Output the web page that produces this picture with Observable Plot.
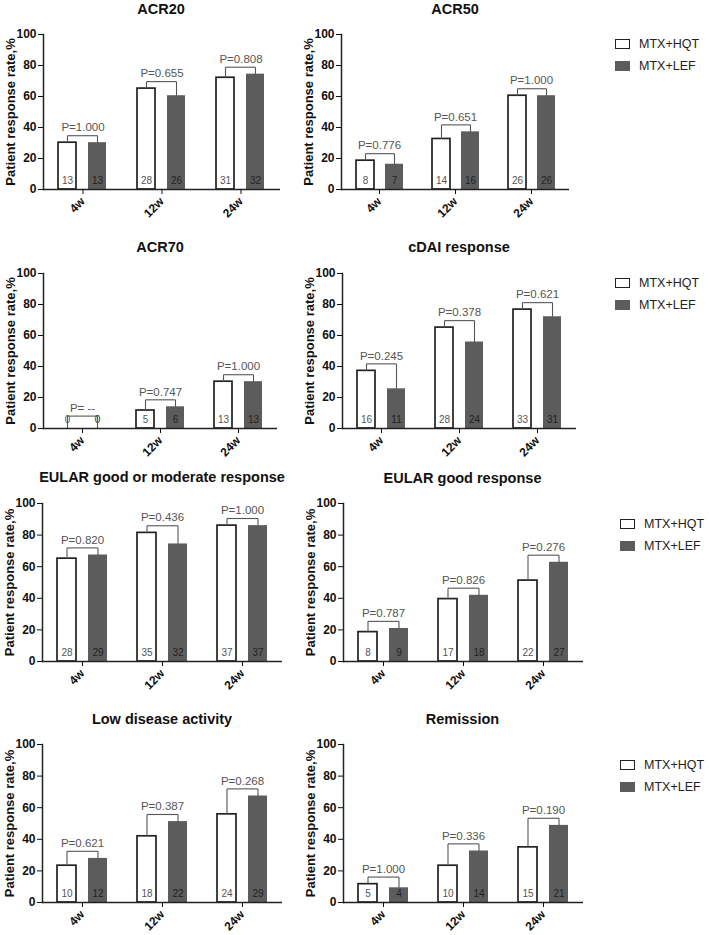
<!DOCTYPE html>
<html><head><meta charset="utf-8">
<script src="https://cdn.jsdelivr.net/npm/d3@7"></script>
<script src="https://cdn.jsdelivr.net/npm/@observablehq/plot@0.6"></script>
<style>
body{margin:0;background:#fff;font-family:Arial,"Liberation Sans",sans-serif;}
#root{position:relative;width:709px;height:935px;overflow:hidden;background:#fff;}
.title{position:absolute;font-weight:bold;font-size:14.5px;line-height:1;color:#111;white-space:nowrap;transform:translateX(-50%);}
.panel{position:absolute;}
.legend{position:absolute;font-size:12.5px;color:#222;line-height:1;}
.legend .row{display:flex;align-items:center;height:22px;}
.legend .sw{display:inline-block;width:15px;height:10px;box-sizing:border-box;margin-right:9px;}
.legend .hqt{border:1.6px solid #222;background:#fff;}
.legend .lef{background:#5c5c5c;}
</style></head><body><div id="root"></div>
<script>
// ---- data ----
const panelTitles = ["ACR20","ACR50","ACR70","cDAI response","EULAR good or moderate response","EULAR good response","Low disease activity","Remission"];
const timePoints = ["4w","12w","24w"];
const groupNames = ["MTX+HQT","MTX+LEF"];
const yTicks = [0,20,40,60,80,100];
const yTitle = "Patient response rate,%";
const hqtRates = [
  [30.2,65.1,72.1],[18.6,32.6,60.5],[0,11.6,30.2],[37.2,65.1,76.7],
  [65.1,81.4,86.0],[18.6,39.5,51.2],[23.3,41.9,55.8],[11.6,23.3,34.9]];
const lefRates = [
  [30.2,60.5,74.4],[16.3,37.2,60.5],[0,14.0,30.2],[25.6,55.8,72.1],
  [67.4,74.4,86.0],[20.9,41.9,62.8],[27.9,51.2,67.4],[9.3,32.6,48.8]];
const hqtCounts = [[13,28,31],[8,14,26],[0,5,13],[16,28,33],[28,35,37],[8,17,22],[10,18,24],[5,10,15]];
const lefCounts = [[13,26,32],[7,16,26],[0,6,13],[11,24,31],[29,32,37],[9,18,27],[12,22,29],[4,14,21]];
const pLabels = [
  ["P=1.000","P=0.655","P=0.808"],["P=0.776","P=0.651","P=1.000"],
  ["P= --","P=0.747","P=1.000"],["P=0.245","P=0.378","P=0.621"],
  ["P=0.820","P=0.436","P=1.000"],["P=0.787","P=0.826","P=0.276"],
  ["P=0.621","P=0.387","P=0.268"],["P=1.000","P=0.336","P=0.190"]];

// ---- layout (pixels): frame left, frame right, y of 100, y of 0, title baseline ----
const frames = [
  [42,280,34,189,14],[340,570,34,189,14],
  [42,278,273,428,252],[341,577,273,428,252],
  [42,282,503,661,482],[342,583,503,661,483],
  [42,282,744,902,724],[342,583,744,902,724]];
const legendPos = [[615,33],[615,272],[620,513],[620,754]];

const root = document.getElementById("root");
const FONT = "Arial, 'Liberation Sans', sans-serif";

panelTitles.forEach((title, k) => {
  const [x0, x1, yT, yB, tb] = frames[k];
  const left = k % 2 ? 290 : 0;
  const mT = 30, mB = 46, mR = 8;
  const rows = [];
  timePoints.forEach((t, i) => {
    rows.push({time: t, group: groupNames[0], rate: hqtRates[k][i], n: hqtCounts[k][i]});
    rows.push({time: t, group: groupNames[1], rate: lefRates[k][i], n: lefCounts[k][i]});
  });
  const br = timePoints.map((t, i) => {
    const a = hqtRates[k][i], b = lefRates[k][i];
    return {time: t, a, b, lv: Math.max(Math.max(a, b) + 4.5, 8), p: pLabels[k][i]};
  });
  const hqt = rows.filter(d => d.group === groupNames[0]);
  const lef = rows.filter(d => d.group === groupNames[1]);
  const chart = Plot.plot({
    width: x1 - left + mR,
    height: mT + (yB - yT) + mB,
    marginLeft: x0 - left, marginRight: mR, marginTop: mT, marginBottom: mB,
    style: {fontFamily: FONT, fontSize: "12px", fontWeight: "bold", color: "#111", background: "transparent", overflow: "visible"},
    fx: {domain: timePoints, padding: 0, label: null},
    x: {domain: groupNames, paddingInner: 0.39, paddingOuter: 0.47, axis: null},
    y: {domain: [0, 100], axis: null},
    marks: [
      Plot.barY(lef, {fx: "time", x: "group", y: "rate", fill: "#5c5c5c"}),
      Plot.barY(hqt, {fx: "time", x: "group", y: "rate", fill: "white", stroke: "#222", strokeWidth: 1.7}),
      Plot.text(hqt, {fx: "time", x: "group", y: 0, dy: -9, text: d => String(d.n), fill: "#555", fontSize: 10, fontWeight: "normal"}),
      Plot.text(lef, {fx: "time", x: "group", y: 0, dy: -9, text: d => String(d.n), fill: "#222", fontSize: 10, fontWeight: "normal"}),
      Plot.link(br, {fx: "time", x1: () => groupNames[0], x2: () => groupNames[0], y1: "a", y2: "lv", stroke: "#555", strokeWidth: 1.1}),
      Plot.link(br, {fx: "time", x1: () => groupNames[0], x2: () => groupNames[1], y1: "lv", y2: "lv", stroke: "#555", strokeWidth: 1.1}),
      Plot.link(br, {fx: "time", x1: () => groupNames[1], x2: () => groupNames[1], y1: "b", y2: "lv", stroke: "#555", strokeWidth: 1.1}),
      Plot.text(br, {fx: "time", y: "lv", dy: -8, text: "p", fill: "#555", fontSize: 11.5, fontWeight: "normal"}),
      Plot.ruleY([0], {stroke: "#222", strokeWidth: 1.5}),
      Plot.frame({anchor: "left", facetAnchor: "left", stroke: "#222", strokeWidth: 1.5}),
      Plot.axisY({ticks: yTicks, tickSize: 5, tickPadding: 2, fontSize: 12, fontWeight: "bold", label: null}),
      Plot.text([yTitle], {facet: "super", frameAnchor: "left", rotate: -90, dx: -33, text: d => d,
        fontSize: 13, fontWeight: "bold", fill: "#111", textAnchor: "middle", lineAnchor: "middle"}),
      Plot.axisFx({anchor: "bottom", tickSize: 5, tickPadding: 5, tickRotate: -45, label: null, fontSize: 12, fontWeight: "bold"})
    ]
  });
  chart.classList.add("panel");
  chart.style.left = left + "px";
  chart.style.top = (yT - mT) + "px";
  root.appendChild(chart);

  const t = document.createElement("div");
  t.className = "title";
  t.textContent = title;
  t.style.left = ((x0 + x1) / 2) + "px";
  t.style.top = (tb - 12) + "px";
  root.appendChild(t);
});

legendPos.forEach(([lx, ly]) => {
  const lg = document.createElement("div");
  lg.className = "legend";
  lg.style.left = lx + "px";
  lg.style.top = ly + "px";
  groupNames.forEach((g, i) => {
    const r = document.createElement("div");
    r.className = "row";
    const sw = document.createElement("span");
    sw.className = "sw " + (i === 0 ? "hqt" : "lef");
    r.appendChild(sw);
    r.appendChild(document.createTextNode(g));
    lg.appendChild(r);
  });
  root.appendChild(lg);
});
</script></body></html>
